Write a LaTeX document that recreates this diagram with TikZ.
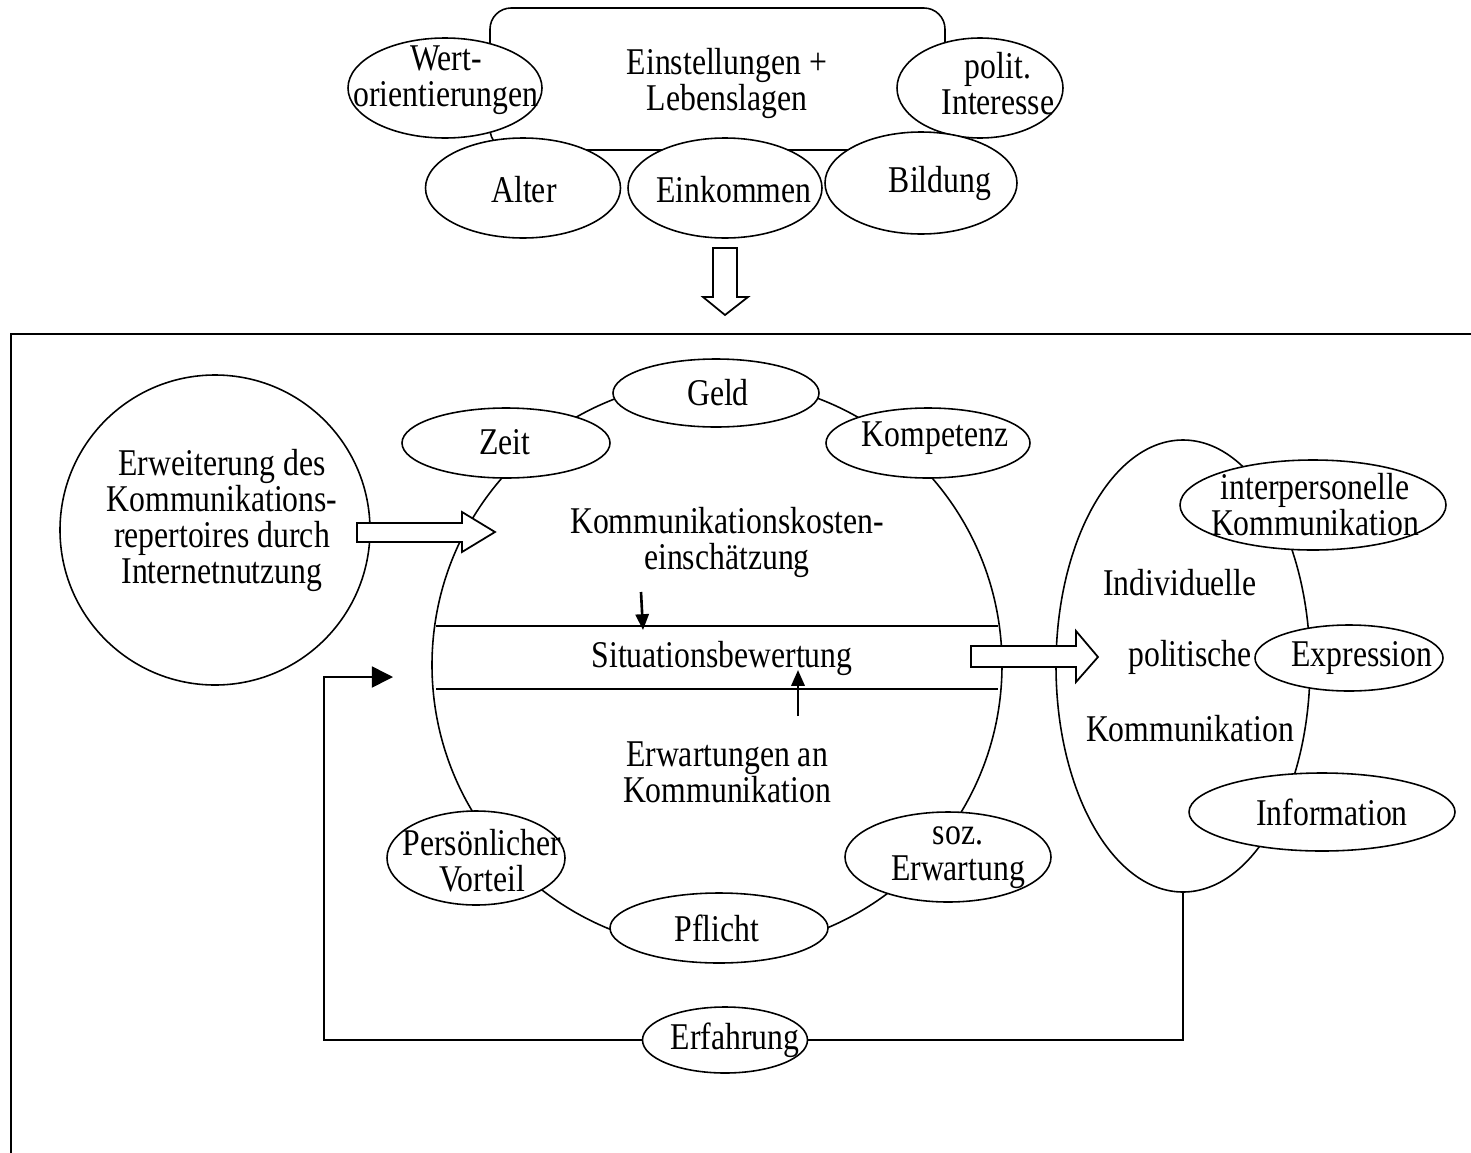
\documentclass[tikz,border=0pt]{standalone}
\usepackage{fontspec}
\setmainfont{Liberation Serif}[FakeStretch=0.84]
\usetikzlibrary{shapes.geometric,arrows.meta}

\begin{document}
\begin{tikzpicture}[x=0.02cm, y=-0.02cm, line width=0.9pt,
  font=\fontsize{21.5}{20.5}\selectfont,
  oval/.style 2 args={draw, fill=white, ellipse, inner sep=0pt,
    minimum width=#1*0.02cm, minimum height=#2*0.02cm},
  txt/.style={align=center, inner sep=0pt},
  hollow/.style={draw, fill=white, line width=1pt},
  small/.style={line width=1.5pt, -{Triangle[length=9pt,width=7.5pt]}}]
\useasboundingbox (0,0) rectangle (1471,1153);

\draw[rounded corners=12pt] (490,8) rectangle (945,150);
\node[txt] (einst) at (727,83) {Einstellungen +\\Lebenslagen};
\node[oval={194}{100}] (wert) at (445,88) {};
\node[oval={166}{100}] (polit) at (980,88) {};
\node[oval={195}{100}] (alter) at (523,188) {};
\node[oval={194}{100}] (eink) at (725,188) {};
\node[oval={192}{102}] (bild) at (921,183) {};
\node[txt] (wert-t) at (446,80) {Wert-\\orientierungen};
\node[txt] (polit-t) at (998,84) {polit.\\Interesse};
\node[txt] (alter-t) at (524,190) {Alter};
\node[txt] (eink-t) at (734,190) {Einkommen};
\node[txt] (bild-t) at (940,183) {Bildung};

\draw[hollow] (713,248) -- (737,248) -- (737,297) -- (748,297) -- (725,315)
  -- (703,297) -- (713,297) -- cycle;

\draw[line width=1.3pt] (1471,334) -- (11,334) -- (11,1153);

\draw (717,665) ellipse (285 and 285);
\draw (436,626) -- (998,626);
\draw (436,689) -- (998,689);
\node[txt] (kosten) at (727,542) {Kommunikationskosten-\\einschätzung};
\node[txt] (sit) at (722,658) {Situationsbewertung};
\node[txt] (erw) at (727,772) {Erwartungen an\\Kommunikation};
\coordinate (k1) at (641,592);
\coordinate (k2) at (643,630);
\coordinate (e1) at (798,716);
\coordinate (e2) at (798,670);
\draw[small] (k1) -- (k2);
\draw[small] (e1) -- (e2);

\node[oval={206}{68}] (geld) at (716,393) {};
\node[oval={208}{70}] (zeit) at (506,443) {};
\node[oval={204}{70}] (komp) at (928,443) {};
\node[oval={178}{94}] (pers) at (476,858) {};
\node[oval={218}{70}] (pfl) at (719,928) {};
\node[oval={206}{90}] (soz) at (948,857) {};
\node[txt] (geld-t) at (718,393) {Geld};
\node[txt] (zeit-t) at (505,442) {Zeit};
\node[txt] (komp-t) at (935,438) {Kompetenz};
\node[txt] (pers-t) at (482,861) {Persönlicher\\Vorteil};
\node[txt] (pfl-t) at (717,928) {Pflicht};
\node[txt] (soz-t) at (958,858) {soz.\\Erwartung};

\node[draw, circle, minimum size=310*0.02cm] (erweit) at (215,530) {};
\node[txt] (erweit-t) at (222,520)
  {Erweiterung des\\Kommunikations-\\repertoires durch\\Internetnutzung};
\draw[hollow] (357,523) -- (462,523) -- (462,512) -- (495,532) -- (462,552)
  -- (462,542) -- (357,542) -- cycle;

\node[oval={254}{452}] (ipk) at (1183,666) {};
\node[txt] (ind) at (1180,583) {Individuelle};
\node[txt] (pol) at (1190,657) {politische};
\node[txt] (komm) at (1190,729) {Kommunikation};
\node[oval={266}{90}] (inter) at (1313,505) {};
\node[oval={188}{66}] (expr) at (1349,658) {};
\node[oval={266}{78}] (info) at (1322,812) {};
\node[txt] (inter-t) at (1315,505) {interpersonelle\\Kommunikation};
\node[txt] (expr-t) at (1362,658) {Expression};
\node[txt] (info-t) at (1332,812) {Information};
\draw[hollow] (971,646) -- (1076,646) -- (1076,631) -- (1098,657) -- (1076,682)
  -- (1076,667) -- (971,667) -- cycle;

\node[oval={165}{66}] (erf) at (725,1040) {};
\node[txt] (erf-t) at (735,1040) {Erfahrung};
\coordinate (fbc) at (324,677);
\coordinate (fb) at (393,677);
\draw (ipk.south) -- (ipk.south |- erf) -- (erf);
\draw[-{Triangle[length=12pt,width=12pt]}] (erf) -| (fbc) -- (fb);
\end{tikzpicture}
\end{document}
